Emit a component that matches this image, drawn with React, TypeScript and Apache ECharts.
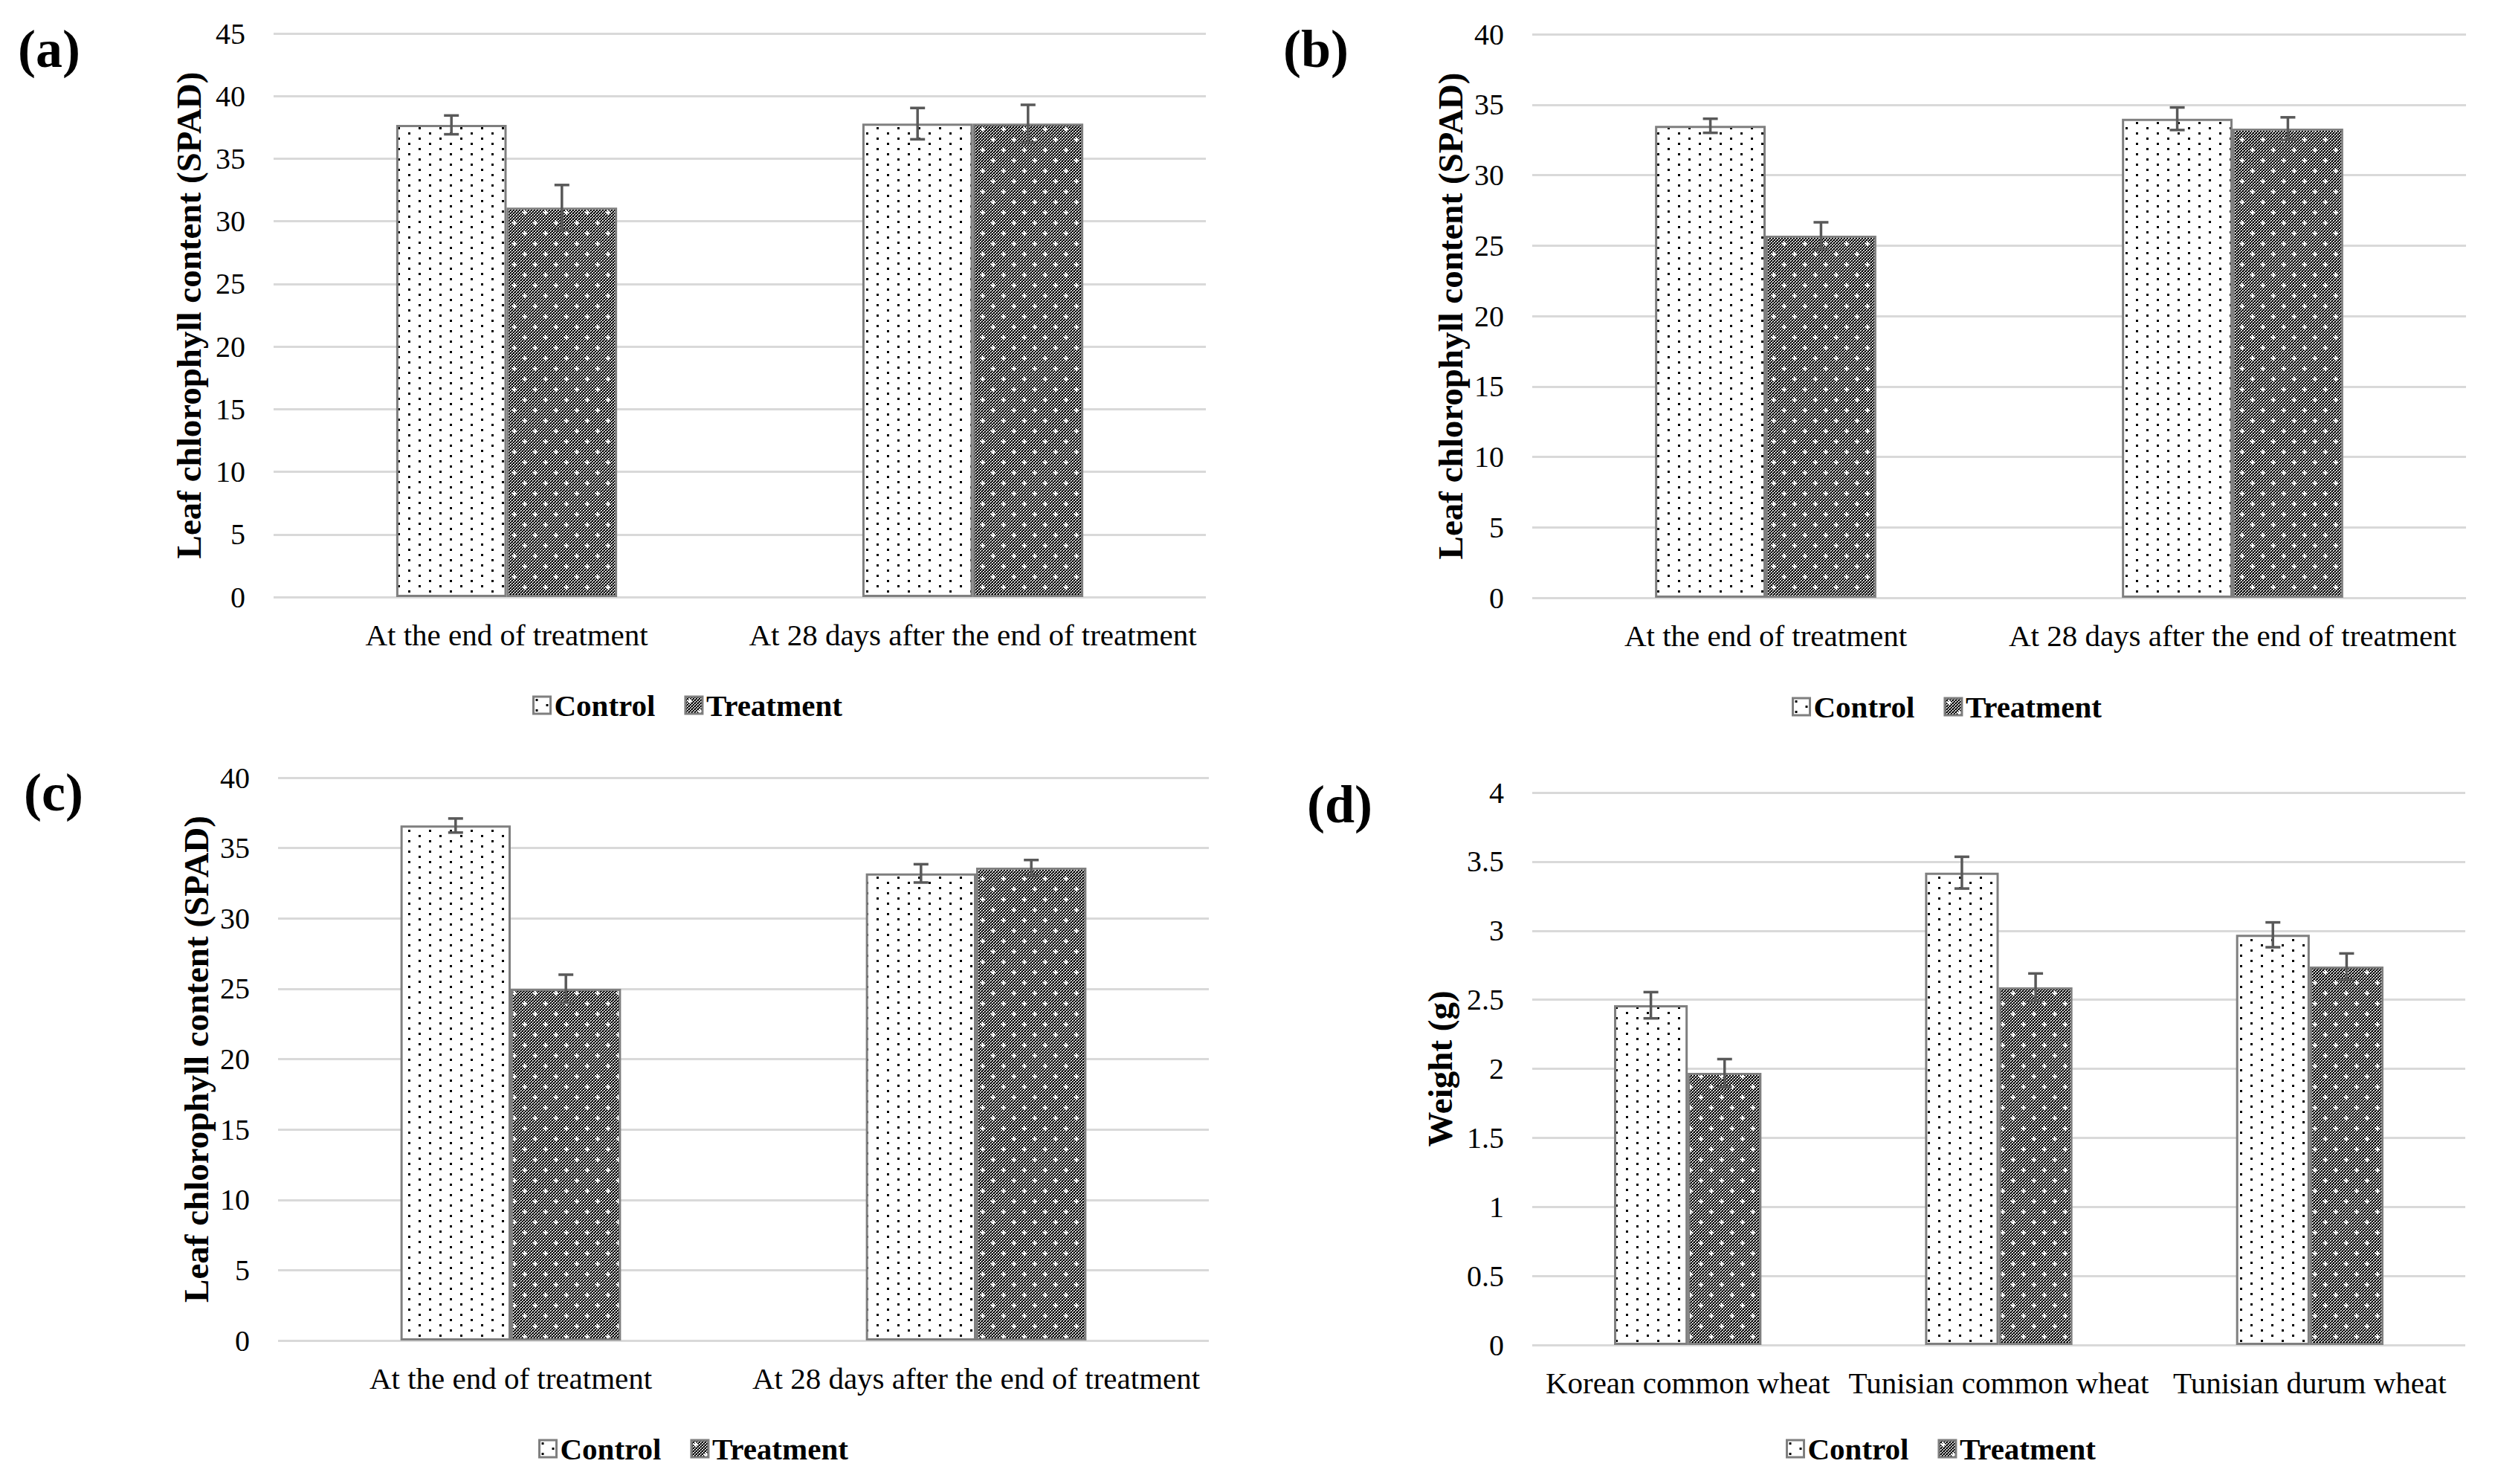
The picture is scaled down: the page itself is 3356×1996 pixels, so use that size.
import React, { useEffect, useRef } from "react";
import * as echarts from "echarts";

// ---------- data ----------
const categoriesABC = ["At the end of treatment", "At 28 days after the end of treatment"];
const categoriesD = ["Korean common wheat", "Tunisian common wheat", "Tunisian durum wheat"];

const controlA = [37.7, 37.8];
const controlErrA = [0.75, 1.25];
const treatmentA = [31.1, 37.8];
const treatmentErrA = [1.8, 1.5];

const controlB = [33.5, 34.0];
const controlErrB = [0.5, 0.8];
const treatmentB = [25.7, 33.3];
const treatmentErrB = [0.95, 0.8];

const controlC = [36.6, 33.2];
const controlErrC = [0.5, 0.65];
const treatmentC = [25.0, 33.6];
const treatmentErrC = [1.0, 0.55];

const controlD = [2.46, 3.42, 2.97];
const controlErrD = [0.095, 0.115, 0.09];
const treatmentD = [1.97, 2.59, 2.74];
const treatmentErrD = [0.1, 0.1, 0.095];

const panelLabels = ["(a)", "(b)", "(c)", "(d)"];
const yTitles = [
  "Leaf chlorophyll content (SPAD)",
  "Leaf chlorophyll content (SPAD)",
  "Leaf chlorophyll content (SPAD)",
  "Weight (g)",
];
const yMaxes = [45, 40, 40, 4];
const yIntervals = [5, 5, 5, 0.5];
const seriesNames = ["Control", "Treatment"];

// ---------- layout ----------
const grids = [
  { left: 368, top: 45, width: 1254, height: 758 },
  { left: 2061, top: 46, width: 1256, height: 758 },
  { left: 374, top: 1046, width: 1252, height: 757 },
  { left: 2061, top: 1066, width: 1255, height: 743 },
];
const yTitleX = [254, 1951, 264, 1937];
const panelLabelPos = [
  { x: 24, y: 66 },
  { x: 1726, y: 66 },
  { x: 32, y: 1066 },
  { x: 1758, y: 1082 },
];
const legendPos = [
  { left: 716, cy: 948 },
  { left: 2410, cy: 950 },
  { left: 724, cy: 1948 },
  { left: 2402, cy: 1948 },
];

const FONT = "Liberation Serif";
const BAR_RATIO = 0.237;

function controlTile(): string {
  const c = document.createElement("canvas");
  c.width = 28;
  c.height = 14;
  const ctx = c.getContext("2d")!;
  ctx.fillStyle = "#ffffff";
  ctx.fillRect(0, 0, 28, 14);
  ctx.fillStyle = "#000000";
  ctx.fillRect(3, 3, 3, 3);
  ctx.fillRect(17, 10, 3, 3);
  return c.toDataURL();
}

function treatmentTile(): string {
  const S = 28;
  const c = document.createElement("canvas");
  c.width = S;
  c.height = S;
  const ctx = c.getContext("2d")!;
  const img = ctx.createImageData(S, S);
  for (let y = 0; y < S; y++) {
    for (let x = 0; x < S; x++) {
      const white = ((x >> 1) + (y >> 1)) % 2 === 1 && !(x % 2 === 1 && y % 2 === 1);
      const v = white ? 255 : 0;
      const i = (y * S + x) * 4;
      img.data[i] = v;
      img.data[i + 1] = v;
      img.data[i + 2] = v;
      img.data[i + 3] = 255;
    }
  }
  ctx.putImageData(img, 0, 0);
  ctx.fillStyle = "#ffffff";
  const plus = (cx: number, cy: number) => {
    ctx.fillRect(cx - 3, cy - 1, 6, 2);
    ctx.fillRect(cx - 1, cy - 3, 2, 6);
  };
  plus(6, 6);
  plus(20, 20);
  return c.toDataURL();
}

export default function App() {
  const ref = useRef<HTMLDivElement>(null);

  useEffect(() => {
    if (!ref.current) return;
    const chart = echarts.init(ref.current, null, { renderer: "svg" });

    const ctrlPattern: any = { image: controlTile(), repeat: "repeat", imageWidth: 28, imageHeight: 14 };
    const trtPattern: any = { image: treatmentTile(), repeat: "repeat", imageWidth: 28, imageHeight: 28 };

    const panels = [
      { cats: categoriesABC, ctrl: controlA, ctrlErr: controlErrA, trt: treatmentA, trtErr: treatmentErrA },
      { cats: categoriesABC, ctrl: controlB, ctrlErr: controlErrB, trt: treatmentB, trtErr: treatmentErrB },
      { cats: categoriesABC, ctrl: controlC, ctrlErr: controlErrC, trt: treatmentC, trtErr: treatmentErrC },
      { cats: categoriesD, ctrl: controlD, ctrlErr: controlErrD, trt: treatmentD, trtErr: treatmentErrD },
    ];

    const errRender = (side: number) => (params: any, api: any) => {
      const idx = api.value(0);
      const v = api.value(1);
      const e = api.value(2);
      const band = api.size([1, 0])[0];
      const w = band * BAR_RATIO;
      const cx = api.coord([idx, v])[0] + (side * w) / 2;
      const yTop = api.coord([idx, v + e])[1];
      const yBot = api.coord([idx, v - e])[1];
      const style = { stroke: "#595959", lineWidth: 3.5 };
      return {
        type: "group",
        children: [
          { type: "line", shape: { x1: cx, y1: yTop, x2: cx, y2: yBot }, style },
          { type: "line", shape: { x1: cx - 10, y1: yTop, x2: cx + 10, y2: yTop }, style },
          { type: "line", shape: { x1: cx - 10, y1: yBot, x2: cx + 10, y2: yBot }, style },
        ],
      };
    };

    const series: any[] = [];
    panels.forEach((p, i) => {
      series.push({
        name: seriesNames[0],
        type: "bar",
        xAxisIndex: i,
        yAxisIndex: i,
        data: p.ctrl,
        barWidth: (BAR_RATIO * 100).toFixed(1) + "%",
        barGap: "0%",
        itemStyle: { color: ctrlPattern, borderColor: "#7f7f7f", borderWidth: 3 },
        emphasis: { disabled: true },
        z: 2,
      });
      series.push({
        name: seriesNames[1],
        type: "bar",
        xAxisIndex: i,
        yAxisIndex: i,
        data: p.trt,
        barWidth: (BAR_RATIO * 100).toFixed(1) + "%",
        barGap: "0%",
        itemStyle: { color: trtPattern, borderColor: "#7f7f7f", borderWidth: 3 },
        emphasis: { disabled: true },
        z: 2,
      });
      series.push({
        name: "err-ctrl-" + i,
        type: "custom",
        xAxisIndex: i,
        yAxisIndex: i,
        renderItem: errRender(-1),
        encode: { x: 0, y: 1 },
        data: p.ctrl.map((v, k) => [k, v, p.ctrlErr[k]]),
        z: 5,
        silent: true,
      });
      series.push({
        name: "err-trt-" + i,
        type: "custom",
        xAxisIndex: i,
        yAxisIndex: i,
        renderItem: errRender(1),
        encode: { x: 0, y: 1 },
        data: p.trt.map((v, k) => [k, v, p.trtErr[k]]),
        z: 5,
        silent: true,
      });
    });

    const graphic: any[] = [];
    panelLabels.forEach((t, i) => {
      graphic.push({
        type: "text",
        x: panelLabelPos[i].x,
        y: panelLabelPos[i].y,
        style: {
          text: t,
          font: `bold 72px "${FONT}"`,
          fill: "#000",
          textAlign: "left",
          textVerticalAlign: "middle",
        },
      });
      const g = grids[i];
      graphic.push({
        type: "text",
        x: yTitleX[i],
        y: g.top + g.height / 2,
        rotation: Math.PI / 2,
        style: {
          text: yTitles[i],
          font: `bold 47px "${FONT}"`,
          fill: "#000",
          textAlign: "center",
          textVerticalAlign: "middle",
        },
      });
    });

    const option: any = {
      animation: false,
      backgroundColor: "#ffffff",
      grid: grids.map((g) => ({ ...g, containLabel: false })),
      xAxis: panels.map((p, i) => ({
        type: "category",
        gridIndex: i,
        data: p.cats,
        axisLine: { show: false },
        axisTick: { show: false },
        axisLabel: {
          interval: 0,
          margin: 30,
          color: "#000",
          fontFamily: FONT,
          fontSize: 41,
        },
      })),
      yAxis: panels.map((p, i) => ({
        type: "value",
        gridIndex: i,
        min: 0,
        max: yMaxes[i],
        interval: yIntervals[i],
        axisLine: { show: false },
        axisTick: { show: false },
        splitLine: { lineStyle: { color: "#d9d9d9", width: 3 } },
        axisLabel: {
          margin: 38,
          color: "#000",
          fontFamily: FONT,
          fontSize: 40,
        },
      })),
      legend: legendPos.map((l) => ({
        data: seriesNames,
        left: l.left,
        top: l.cy - 20,
        padding: 0,
        itemWidth: 23,
        itemHeight: 23,
        itemGap: 39,
        icon: "rect",
        selectedMode: false,
        itemStyle: { borderColor: "#7f7f7f", borderWidth: 3 },
        textStyle: {
          fontFamily: FONT,
          fontWeight: "bold",
          fontSize: 41,
          color: "#000",
          padding: [0, 0, 0, 0],
        },
      })),
      graphic,
      series,
    };

    chart.setOption(option);
    return () => {
      chart.dispose();
    };
  }, []);

  return (
    <div
      ref={ref}
      style={{ position: "absolute", left: 0, top: 0, width: 3356, height: 1996, background: "#fff" }}
    />
  );
}
